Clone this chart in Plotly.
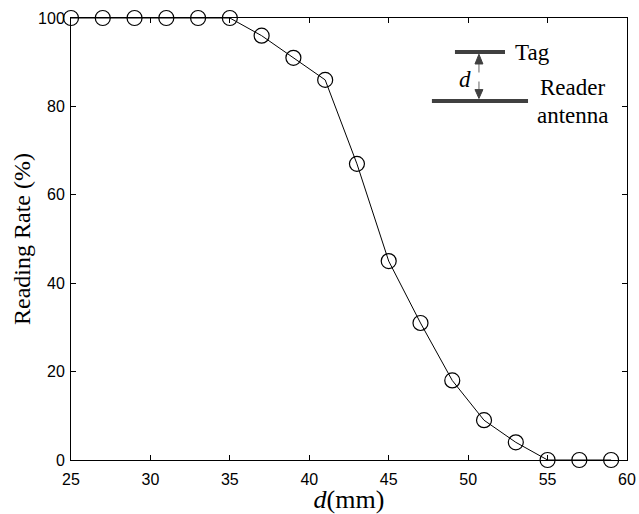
import plotly.graph_objects as go

distance_mm = [25, 27, 29, 31, 33, 35, 37, 39, 41, 43, 45, 47, 49, 51, 53, 55, 57, 59]
reading_rate = [100, 100, 100, 100, 100, 100, 96, 91, 86, 67, 45, 31, 18, 9, 4, 0, 0, 0]
x_ticks = [25, 30, 35, 40, 45, 50, 55, 60]
y_ticks = [0, 20, 40, 60, 80, 100]

fig = go.Figure()
fig.add_trace(go.Scatter(
    x=distance_mm, y=reading_rate, mode="lines+markers",
    line=dict(color="black", width=1),
    marker=dict(symbol="circle-open", size=15, color="black", line=dict(width=1.2)),
    cliponaxis=False, showlegend=False,
))

serif = "Liberation Serif, Times New Roman, serif"
gray = "#404040"

shapes = [
    dict(type="line", xref="x", yref="y", x0=49.17, x1=52.32, y0=92.3, y1=92.3,
         line=dict(color=gray, width=4)),
    dict(type="line", xref="x", yref="y", x0=47.72, x1=53.77, y0=81.2, y1=81.2,
         line=dict(color=gray, width=4)),
    dict(type="line", xref="x", yref="y", x0=50.68, x1=50.68, y0=83.6, y1=89.8,
         line=dict(color="#808080", width=1.2, dash="dash")),
    dict(type="path", xref="x", yref="y",
         path="M 50.68 91.8 L 50.43 89.6 L 50.93 89.6 Z",
         fillcolor=gray, line=dict(color=gray, width=1)),
    dict(type="path", xref="x", yref="y",
         path="M 50.68 81.8 L 50.43 83.8 L 50.93 83.8 Z",
         fillcolor=gray, line=dict(color=gray, width=1)),
]

annotations = [
    dict(x=49.8, y=86.0, xref="x", yref="y", text="<i>d</i>", showarrow=False,
         font=dict(family=serif, size=23, color="black")),
    dict(x=54.02, y=92.3, xref="x", yref="y", text="Tag", showarrow=False,
         font=dict(family=serif, size=23, color="black")),
    dict(x=56.54, y=84.2, xref="x", yref="y", text="Reader", showarrow=False,
         font=dict(family=serif, size=23, color="black")),
    dict(x=56.6, y=78.05, xref="x", yref="y", text="antenna", showarrow=False,
         font=dict(family=serif, size=23, color="black")),
]

axis_common = dict(
    showgrid=False, zeroline=False, showline=True, linecolor="black", linewidth=1,
    mirror="ticks", ticks="inside", ticklen=5, tickwidth=1, tickcolor="black",
    automargin=False,
    tickfont=dict(family="Liberation Sans, Arial, sans-serif", size=16, color="black"),
)

fig.update_layout(
    width=639, height=514,
    margin=dict(l=71, r=12, t=18, b=54),
    paper_bgcolor="white", plot_bgcolor="white",
    xaxis=dict(range=[25, 60], tickvals=x_ticks, ticktext=[str(v) for v in x_ticks],
               ticklabelstandoff=5,
               title=dict(text="<i>d</i>(mm)", font=dict(family=serif, size=26, color="black"),
                          standoff=3),
               **axis_common),
    yaxis=dict(range=[0, 100], tickvals=y_ticks, ticktext=[str(v) for v in y_ticks],
               ticklabelstandoff=2,
               title=dict(text="Reading Rate (%)", font=dict(family=serif, size=24, color="black"),
                          standoff=0),
               **axis_common),
    shapes=shapes, annotations=annotations,
)

fig.write_html("out.html")
